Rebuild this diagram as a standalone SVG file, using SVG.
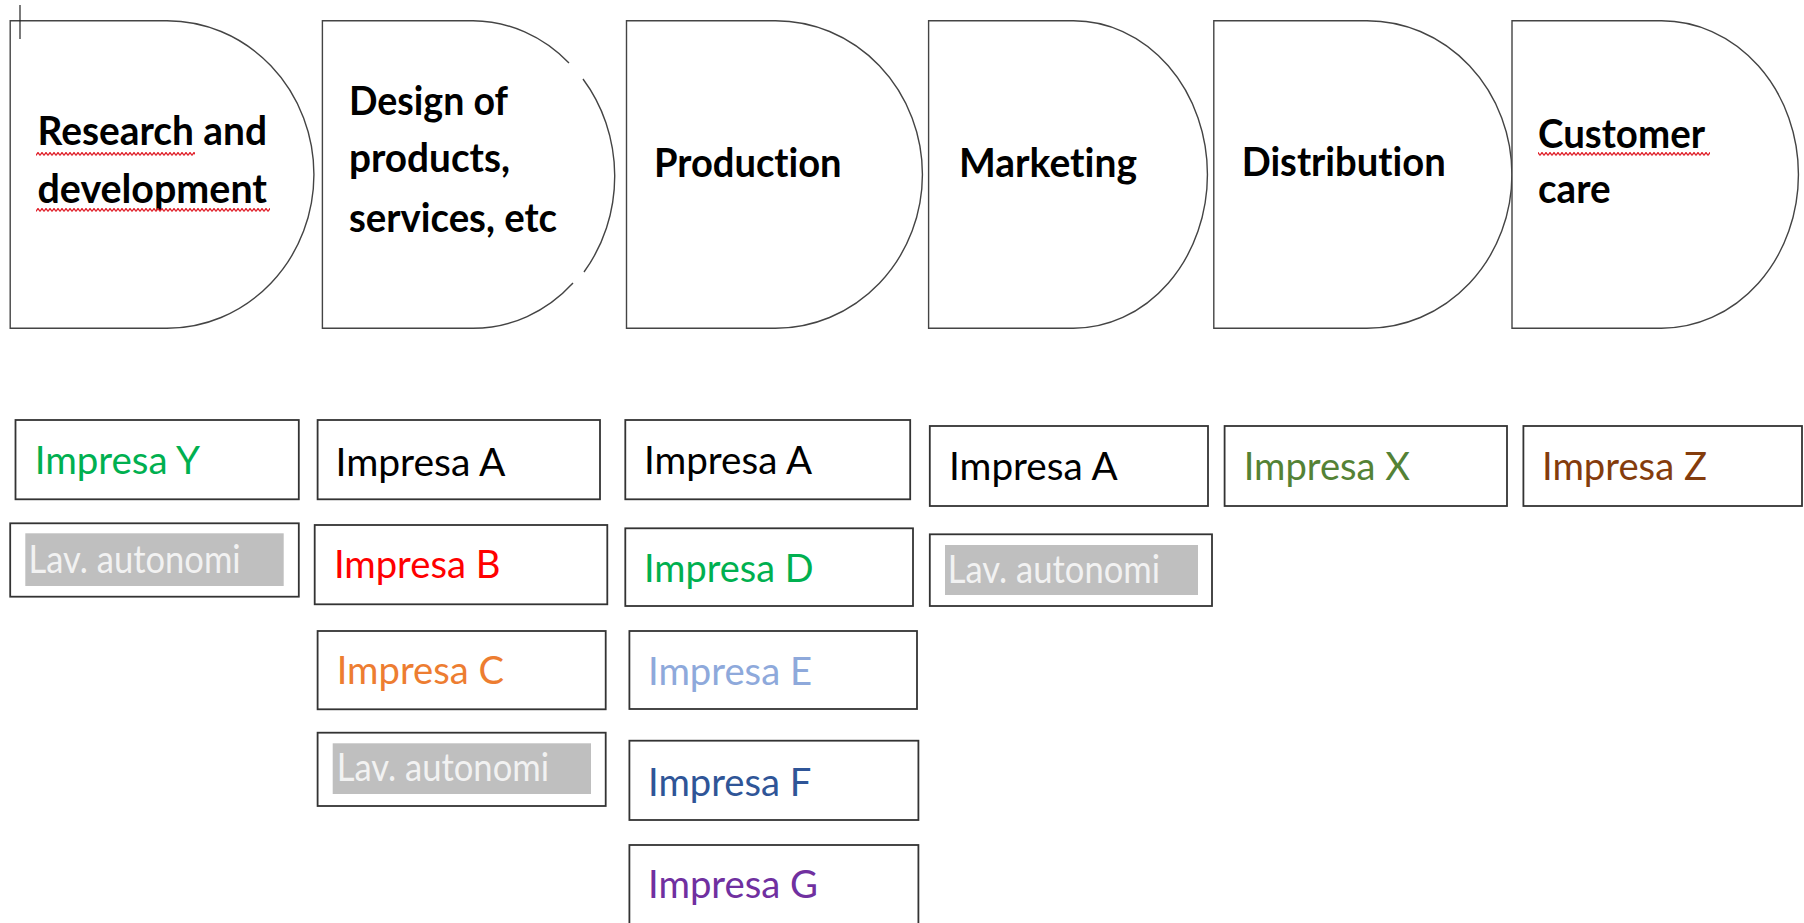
<svg xmlns="http://www.w3.org/2000/svg" width="1804" height="923" viewBox="0 0 1804 923">
<style>
.sh{fill:#fff;stroke:#444;stroke-width:1.4}
.bx{fill:#fff;stroke:#333;stroke-width:1.8}
.hd{font-family:Lato,"Liberation Sans",sans-serif;font-weight:bold;font-size:41px;fill:#000;font-variant-ligatures:none}
.t{font-family:Lato,"Liberation Sans",sans-serif;font-size:39px;font-variant-ligatures:none}
.lav{fill:#BFBFBF}
.lt{fill:#F2F2F2}
</style>
<defs>
<pattern id="squig" width="4" height="4" patternUnits="userSpaceOnUse"><path d="M0,3.5 L2,0.5 L4,3.5" fill="none" stroke="#E0202A" stroke-width="1.3"/></pattern>
</defs>
<rect width="1804" height="923" fill="#fff"/>
<g id="connectors"></g>
<g id="stage-rd">
<path class="sh" d="M167,20.7 A147,153.8 0 0 1 167,328.3 H10.2 V20.7 Z"/>
<text class="hd" x="37.5" y="145" textLength="229.5" lengthAdjust="spacingAndGlyphs">Research and</text>
<text class="hd" x="37.5" y="203" textLength="229.5" lengthAdjust="spacingAndGlyphs">development</text>
<rect x="36" y="152" width="159" height="4" fill="url(#squig)"/>
<rect x="36" y="208" width="234" height="4" fill="url(#squig)"/>
</g>
<g id="stage-design">
<path class="sh" d="M473,328.3 H322.4 V20.7 H473 A141,153.8 0 0 1 569,63 M583,79 A141,153.8 0 0 1 584,272 M573,283 A141,153.8 0 0 1 473,328.3"/>
<text class="hd" x="349" y="115" textLength="159" lengthAdjust="spacingAndGlyphs">Design of</text>
<text class="hd" x="349" y="172" textLength="161" lengthAdjust="spacingAndGlyphs">products,</text>
<text class="hd" x="349" y="232" textLength="208" lengthAdjust="spacingAndGlyphs">services, etc</text>
</g>
<g id="stage-production">
<path class="sh" d="M775.5,20.7 A147,153.8 0 0 1 775.5,328.3 H626.5 V20.7 Z"/>
<text class="hd" x="654" y="176.7" textLength="187.6" lengthAdjust="spacingAndGlyphs">Production</text>
</g>
<g id="stage-marketing">
<path class="sh" d="M1073.5,20.7 A134,153.8 0 0 1 1073.5,328.3 H928.6 V20.7 Z"/>
<text class="hd" x="959" y="176.7" textLength="178" lengthAdjust="spacingAndGlyphs">Marketing</text>
</g>
<g id="stage-distribution">
<path class="sh" d="M1367,20.7 A145,153.8 0 0 1 1367,328.3 H1213.8 V20.7 Z"/>
<text class="hd" x="1241.7" y="175.7" textLength="204" lengthAdjust="spacingAndGlyphs">Distribution</text>
</g>
<g id="stage-customer">
<path class="sh" d="M1661.5,20.7 A137,153.8 0 0 1 1661.5,328.3 H1512 V20.7 Z"/>
<text class="hd" x="1538" y="148.3" textLength="167" lengthAdjust="spacingAndGlyphs">Customer</text>
<text class="hd" x="1538" y="203.3" textLength="72.6" lengthAdjust="spacingAndGlyphs">care</text>
<rect x="1538" y="152" width="172" height="4" fill="url(#squig)"/>
</g>
<line x1="20" y1="5" x2="20" y2="39" stroke="#222" stroke-width="1.2"/>

<g id="rd-impresa-y">
<rect class="bx" x="15.5" y="420" width="283.3" height="79.3"/>
<text class="t" x="34.7" y="474" fill="#00B050" textLength="165.3" lengthAdjust="spacingAndGlyphs">Impresa Y</text>
</g>
<g id="rd-lav">
<rect class="bx" x="10.2" y="523.3" width="288.6" height="73.4"/>
<rect class="lav" x="25.3" y="533.3" width="258.4" height="52.7"/>
<text class="t lt" x="28.6" y="572.7" textLength="212" lengthAdjust="spacingAndGlyphs">Lav. autonomi</text>
</g>

<g id="design-impresa-a">
<rect class="bx" x="317.6" y="420" width="282.4" height="79.3"/>
<text class="t" x="335.5" y="476" fill="#000" textLength="170" lengthAdjust="spacingAndGlyphs">Impresa A</text>
</g>
<g id="design-impresa-b">
<rect class="bx" x="314.7" y="525" width="292.6" height="79.3"/>
<text class="t" x="333.9" y="578.3" fill="#FF0000" textLength="166.5" lengthAdjust="spacingAndGlyphs">Impresa B</text>
</g>
<g id="design-impresa-c">
<rect class="bx" x="317.6" y="631" width="288.1" height="78.3"/>
<text class="t" x="336.7" y="684.3" fill="#ED7D31" textLength="167.3" lengthAdjust="spacingAndGlyphs">Impresa C</text>
</g>
<g id="design-lav">
<rect class="bx" x="317.6" y="732.7" width="288.1" height="73.3"/>
<rect class="lav" x="332.7" y="743.3" width="258.3" height="50.7"/>
<text class="t lt" x="336.7" y="781" textLength="212.3" lengthAdjust="spacingAndGlyphs">Lav. autonomi</text>
</g>

<g id="prod-impresa-a">
<rect class="bx" x="625.3" y="420" width="284.9" height="79.3"/>
<text class="t" x="644" y="474" fill="#000" textLength="168" lengthAdjust="spacingAndGlyphs">Impresa A</text>
</g>
<g id="prod-impresa-d">
<rect class="bx" x="625.3" y="528.3" width="287.7" height="77.7"/>
<text class="t" x="644" y="581.7" fill="#00B050" textLength="169.5" lengthAdjust="spacingAndGlyphs">Impresa D</text>
</g>
<g id="prod-impresa-e">
<rect class="bx" x="629.4" y="631" width="287.6" height="78"/>
<text class="t" x="648" y="685" fill="#8EA9DB" textLength="164" lengthAdjust="spacingAndGlyphs">Impresa E</text>
</g>
<g id="prod-impresa-f">
<rect class="bx" x="629.4" y="740.7" width="289" height="79.3"/>
<text class="t" x="648" y="796" fill="#2F5597" textLength="163.4" lengthAdjust="spacingAndGlyphs">Impresa F</text>
</g>
<g id="prod-impresa-g">
<rect class="bx" x="629.4" y="845" width="289" height="90"/>
<text class="t" x="648" y="898.3" fill="#7030A0" textLength="170" lengthAdjust="spacingAndGlyphs">Impresa G</text>
</g>

<g id="mkt-impresa-a">
<rect class="bx" x="929.8" y="426" width="278.2" height="80"/>
<text class="t" x="949" y="480" fill="#000" textLength="168.6" lengthAdjust="spacingAndGlyphs">Impresa A</text>
</g>
<g id="mkt-lav">
<rect class="bx" x="929.8" y="534.3" width="282.2" height="71.7"/>
<rect class="lav" x="945" y="545" width="253" height="50"/>
<text class="t lt" x="947.8" y="583.3" textLength="212.2" lengthAdjust="spacingAndGlyphs">Lav. autonomi</text>
</g>

<g id="dist-impresa-x">
<rect class="bx" x="1224.6" y="426" width="282.4" height="80"/>
<text class="t" x="1243.7" y="480" fill="#548235" textLength="166.3" lengthAdjust="spacingAndGlyphs">Impresa X</text>
</g>
<g id="care-impresa-z">
<rect class="bx" x="1523.4" y="426" width="278.6" height="80"/>
<text class="t" x="1542" y="480" fill="#843C0C" textLength="165" lengthAdjust="spacingAndGlyphs">Impresa Z</text>
</g>
</svg>
